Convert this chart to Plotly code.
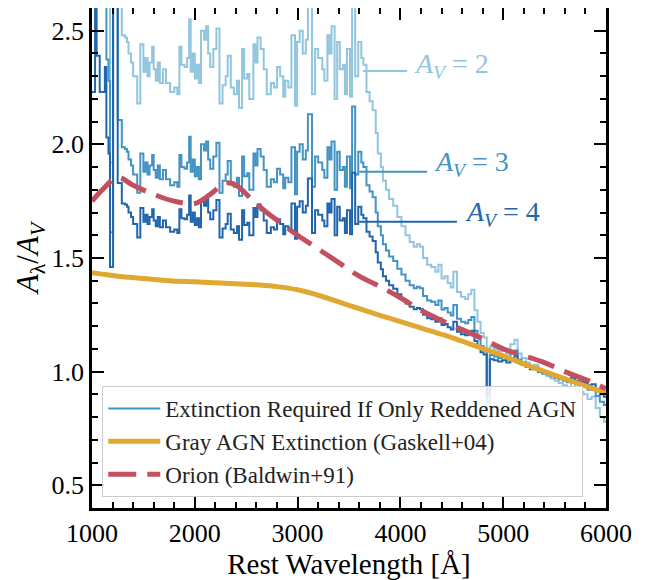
import plotly.graph_objects as go

# Rest wavelength bin starts [Angstrom]
wave = [1000, 1030, 1045, 1075, 1125, 1140, 1160, 1175, 1205, 1250, 1290, 1320, 1340, 1355, 1380,
        1400, 1440, 1470, 1500, 1520, 1540, 1560, 1585, 1600, 1620, 1640, 1660, 1690, 1720, 1760,
        1800, 1830, 1850, 1870, 1900, 1925, 1945, 1960, 1980, 2000, 2020, 2040, 2060, 2090, 2110,
        2130, 2150, 2180, 2210, 2240, 2270, 2300, 2320, 2350, 2380, 2410, 2430, 2460, 2480, 2510,
        2530, 2570, 2590, 2610, 2640, 2670, 2700, 2740, 2770, 2800, 2830, 2860, 2880, 2910, 2940,
        2975, 2995, 3020, 3050, 3080, 3100, 3140, 3170, 3200, 3240, 3260, 3290, 3310, 3330, 3360,
        3385, 3410, 3440, 3460, 3480, 3510, 3530, 3560, 3590, 3620, 3640, 3670, 3700, 3730, 3760,
        3780, 3810, 3830, 3860, 3890, 3930, 3970, 4010, 4050, 4090, 4130, 4160, 4190, 4220, 4260,
        4300, 4340, 4370, 4400, 4430, 4460, 4490, 4515, 4550, 4590, 4630, 4660, 4690, 4720, 4750,
        4780, 4810, 4840, 4870, 4910, 4950, 4990, 5030, 5070, 5110, 5140, 5180, 5220, 5260, 5300,
        5340, 5380, 5420, 5460, 5500, 5540, 5580, 5620, 5660, 5700, 5740, 5780, 5820, 5860, 5900,
        5940, 5980, 6000]

av2 = [3.46, 4.80, 3.78, 3.46, 3.68, 3.06, 2.92, 1.92, 4.40, 2.66, 2.48, 2.47, 2.45, 2.40, 2.36,
       2.30, 2.18, 2.44, 2.32, 2.38, 2.30, 2.36, 2.43, 2.33, 2.28, 2.36, 2.27, 2.33, 2.27, 2.23,
       2.25, 2.22, 2.43, 2.35, 2.34, 2.38, 2.55, 2.32, 2.40, 2.29, 2.35, 2.27, 2.50, 2.46, 2.52,
       2.40, 2.34, 2.42, 2.51, 2.18, 2.26, 2.30, 2.39, 2.25, 2.22, 2.28, 2.16, 2.42, 2.29, 2.31,
       2.20, 2.44, 2.36, 2.47, 2.42, 2.33, 2.22, 2.27, 2.25, 2.34, 2.30, 2.21, 2.28, 2.25, 2.48,
       2.17, 2.45, 2.50, 2.40, 2.46, 2.70, 2.22, 2.42, 2.38, 2.33, 2.28, 2.48, 2.40, 2.52, 2.20,
       2.45, 2.33, 2.35, 2.22, 2.42, 2.21, 2.75, 2.30, 2.45, 2.38, 2.35, 2.23, 2.19, 2.15, 2.05,
       1.96, 1.90, 1.84, 1.80, 1.76, 1.73, 1.68, 1.64, 1.60, 1.57, 1.55, 1.56, 1.55, 1.50, 1.47,
       1.46, 1.44, 1.47, 1.41, 1.42, 1.39, 1.37, 1.44, 1.35, 1.33, 1.32, 1.34, 1.36, 1.27, 1.22,
       1.17, 1.15, 0.80, 1.11, 1.10, 1.09, 1.10, 1.08, 1.12, 1.14, 1.08, 1.06, 1.04, 1.02, 1.03,
       1.00, 0.99, 0.98, 0.97, 0.96, 0.95, 0.94, 0.93, 0.95, 0.92, 0.91, 0.90, 0.88, 0.89, 0.84,
       0.80, 0.78, 0.78]

av3 = [2.640, 3.533, 2.853, 2.640, 2.787, 2.373, 2.280, 1.613, 3.267, 2.107, 1.987, 1.980, 1.967, 1.933, 1.907,
       1.867, 1.787, 1.960, 1.880, 1.920, 1.867, 1.907, 1.953, 1.887, 1.853, 1.907, 1.847, 1.887, 1.847, 1.820,
       1.833, 1.813, 1.953, 1.900, 1.893, 1.920, 2.033, 1.880, 1.933, 1.860, 1.900, 1.847, 2.000, 1.973, 2.013,
       1.933, 1.893, 1.947, 2.007, 1.787, 1.840, 1.867, 1.927, 1.833, 1.813, 1.853, 1.773, 1.947, 1.860, 1.873,
       1.800, 1.960, 1.907, 1.980, 1.947, 1.887, 1.813, 1.847, 1.833, 1.893, 1.867, 1.807, 1.853, 1.833, 1.987,
       1.780, 1.967, 2.000, 1.933, 1.973, 2.133, 1.813, 1.947, 1.920, 1.887, 1.853, 1.987, 1.933, 2.013, 1.800,
       1.967, 1.887, 1.900, 1.813, 1.947, 1.807, 2.167, 1.867, 1.967, 1.920, 1.900, 1.820, 1.793, 1.767, 1.700,
       1.640, 1.600, 1.560, 1.533, 1.507, 1.487, 1.453, 1.427, 1.400, 1.380, 1.367, 1.373, 1.367, 1.333, 1.313,
       1.307, 1.293, 1.313, 1.273, 1.280, 1.260, 1.247, 1.293, 1.233, 1.220, 1.213, 1.227, 1.240, 1.180, 1.147,
       1.113, 1.100, 0.867, 1.073, 1.067, 1.060, 1.067, 1.053, 1.080, 1.093, 1.053, 1.040, 1.027, 1.013, 1.020,
       1.000, 0.993, 0.987, 0.980, 0.973, 0.967, 0.960, 0.953, 0.967, 0.947, 0.940, 0.933, 0.920, 0.927, 0.893,
       0.867, 0.853, 0.853]

av4 = [2.230, 2.900, 2.390, 2.230, 2.340, 2.030, 1.960, 1.460, 2.700, 1.830, 1.740, 1.735, 1.725, 1.700, 1.680,
       1.650, 1.590, 1.720, 1.660, 1.690, 1.650, 1.680, 1.715, 1.665, 1.640, 1.680, 1.635, 1.665, 1.635, 1.615,
       1.625, 1.610, 1.715, 1.675, 1.670, 1.690, 1.775, 1.660, 1.700, 1.645, 1.675, 1.635, 1.750, 1.730, 1.760,
       1.700, 1.670, 1.710, 1.755, 1.590, 1.630, 1.650, 1.695, 1.625, 1.610, 1.640, 1.580, 1.710, 1.645, 1.655,
       1.600, 1.720, 1.680, 1.735, 1.710, 1.665, 1.610, 1.635, 1.625, 1.670, 1.650, 1.605, 1.640, 1.625, 1.740,
       1.585, 1.725, 1.750, 1.700, 1.730, 1.850, 1.610, 1.710, 1.690, 1.665, 1.640, 1.740, 1.700, 1.760, 1.600,
       1.725, 1.665, 1.675, 1.610, 1.710, 1.605, 1.875, 1.650, 1.725, 1.690, 1.675, 1.615, 1.595, 1.575, 1.525,
       1.480, 1.450, 1.420, 1.400, 1.380, 1.365, 1.340, 1.320, 1.300, 1.285, 1.275, 1.280, 1.275, 1.250, 1.235,
       1.230, 1.220, 1.235, 1.205, 1.210, 1.195, 1.185, 1.220, 1.175, 1.165, 1.160, 1.170, 1.180, 1.135, 1.110,
       1.085, 1.075, 0.900, 1.055, 1.050, 1.045, 1.050, 1.040, 1.060, 1.070, 1.040, 1.030, 1.020, 1.010, 1.015,
       1.000, 0.995, 0.990, 0.985, 0.980, 0.975, 0.970, 0.965, 0.975, 0.960, 0.955, 0.950, 0.940, 0.945, 0.920,
       0.900, 0.890, 0.890]

# Gray AGN extinction curve (Gaskell+04)
gray_wave = [1000, 1250, 1500, 1750, 2000, 2250, 2500, 2600, 2800, 3000, 3200, 3400, 3600, 3800,
             4000, 4250, 4500, 4750, 5000, 5250, 5500, 5750, 6000]
gray_ext = [1.435, 1.42, 1.41, 1.40, 1.395, 1.39, 1.385, 1.382, 1.374, 1.36, 1.336, 1.307, 1.277, 1.248,
            1.22, 1.185, 1.15, 1.11, 1.07, 1.025, 0.985, 0.945, 0.905]

# Orion extinction curve (Baldwin+91)
orion_wave = [1000, 1100, 1250, 1400, 1600, 1800, 2000, 2150, 2300, 2400, 2550, 2700, 2850, 3000,
              3200, 3400, 3600, 3800, 4000, 4200, 4400, 4600, 4800, 5000, 5200, 5400, 5600, 5800, 6000]
orion_ext = [1.75, 1.80, 1.855, 1.82, 1.78, 1.75, 1.74, 1.78, 1.83, 1.82, 1.76, 1.70, 1.65, 1.60,
             1.54, 1.48, 1.42, 1.375, 1.325, 1.27, 1.225, 1.185, 1.145, 1.10, 1.07, 1.04, 1.00, 0.965, 0.925]

# Labels for each A_V curve
label_text = ["2", "3", "4"]
label_line_x = [[3635, 4065], [3600, 4260], [3600, 4550]]
label_line_y = [2.323, 1.88, 1.66]
label_pos_x = [4110, 4310, 4610]
label_pos_y = [2.345, 1.915, 1.695]

c_light, c_mid, c_dark = "#92c5de", "#4393c3", "#2166ac"
c_gold, c_red = "#e0a830", "#c2505f"
FONT = "Liberation Serif, Times New Roman, DejaVu Serif, serif"

fig = go.Figure()
for ys, col, show in [(av2, c_light, False), (av3, c_mid, True), (av4, c_dark, False)]:
    fig.add_trace(go.Scatter(x=wave, y=ys, mode="lines", line=dict(color=col, width=2, shape="hv"),
                             name="Extinction Required If Only Reddened AGN", showlegend=show))
fig.add_trace(go.Scatter(x=gray_wave, y=gray_ext, mode="lines",
                         line=dict(color=c_gold, width=5, shape="spline"),
                         name="Gray AGN Extinction (Gaskell+04)"))
fig.add_trace(go.Scatter(x=orion_wave, y=orion_ext, mode="lines",
                         line=dict(color=c_red, width=5, shape="spline", dash="28px,11px"),
                         name="Orion (Baldwin+91)"))

for i, col in enumerate([c_light, c_mid, c_dark]):
    fig.add_shape(type="line", xref="x", yref="y",
                  x0=label_line_x[i][0], x1=label_line_x[i][1],
                  y0=label_line_y[i], y1=label_line_y[i], line=dict(color=col, width=2))
    fig.add_annotation(x=label_pos_x[i], y=label_pos_y[i], xref="x", yref="y",
                       text="<i>A</i><sub><i>V</i></sub> = " + label_text[i],
                       showarrow=False, xanchor="left", yanchor="middle",
                       font=dict(family=FONT, size=28, color=col))

axis_common = dict(showline=True, linecolor="black", linewidth=2.5, mirror="allticks",
                   ticks="inside", ticklen=12, tickwidth=2, tickcolor="black",
                   showgrid=False, zeroline=False, automargin=False,
                   tickfont=dict(family=FONT, size=26, color="black"))

fig.update_xaxes(range=[1000, 6000], dtick=1000, tick0=1000,
                 minor=dict(ticks="inside", ticklen=6, tickwidth=1.5, tickcolor="black", dtick=200),
                 title=dict(text="Rest Wavelength [Å]", font=dict(family=FONT, size=29, color="black"),
                            standoff=2),
                 **axis_common)
fig.update_yaxes(range=[0.4, 2.6], dtick=0.5, tick0=0.5, tickformat=".1f",
                 minor=dict(ticks="inside", ticklen=6, tickwidth=1.5, tickcolor="black", dtick=0.1),
                 title=dict(text="<i>A</i><sub>λ</sub>/<i>A</i><sub><i>V</i></sub>",
                            font=dict(family=FONT, size=31, color="black"), standoff=4),
                 **axis_common)

# the page body adds an 8px offset, so the figure is sized to fit the window
fig.update_layout(width=641, height=572, margin=dict(l=84, r=43, t=0, b=72),
                  plot_bgcolor="white", paper_bgcolor="white",
                  font=dict(family=FONT, color="black"),
                  legend=dict(x=0.02, y=0.022, xanchor="left", yanchor="bottom",
                              bgcolor="rgba(255,255,255,0.85)", bordercolor="#cccccc", borderwidth=1,
                              font=dict(family=FONT, size=23, color="#222222"),
                              itemwidth=52, tracegroupgap=0))

fig.write_html("out.html")
